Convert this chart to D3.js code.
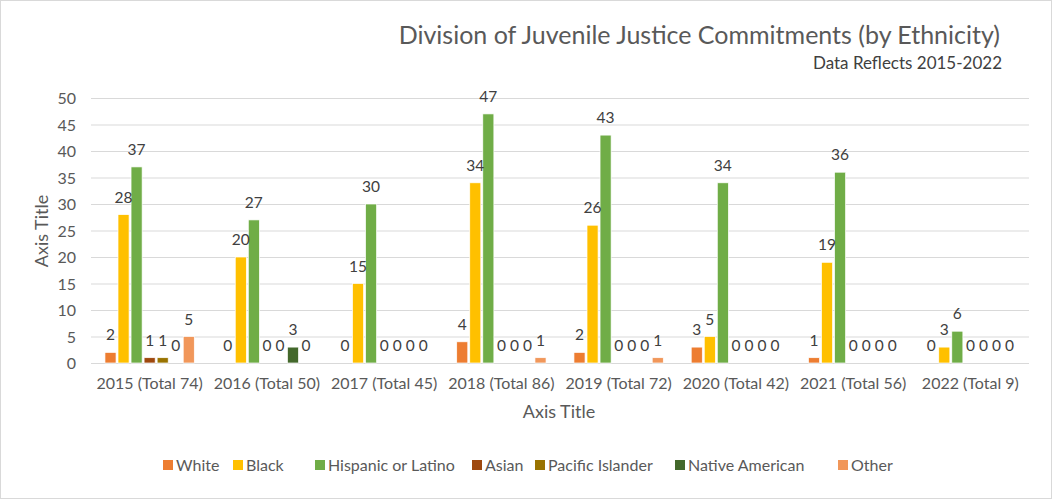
<!DOCTYPE html>
<html><head><meta charset="utf-8">
<script src="https://cdn.jsdelivr.net/npm/d3@7"></script>
<style>
html,body{margin:0;padding:0;background:#fff;}
text{font-family:Lato,"Open Sans",sans-serif;}
</style></head>
<body><svg id="c" width="1052" height="499"></svg>
<script>
const categories = ["2015 (Total 74)","2016 (Total 50)","2017 (Total 45)","2018 (Total 86)","2019 (Total 72)","2020 (Total 42)","2021 (Total 56)","2022 (Total 9)"];
const seriesNames = ["White","Black","Hispanic or Latino","Asian","Pacific Islander","Native American","Other"];
const white    = [2,0,0,4,2,3,1,0];
const black    = [28,20,15,34,26,5,19,3];
const hispanic = [37,27,30,47,43,34,36,6];
const asian    = [1,0,0,0,0,0,0,0];
const pacific  = [1,0,0,0,0,0,0,0];
const native   = [0,3,0,0,0,0,0,0];
const other    = [5,0,0,1,1,0,0,0];
const yTicks = [0,5,10,15,20,25,30,35,40,45,50];
const colors = ["#ED7D31","#FFC000","#70AD47","#9E480E","#997300","#43682B","#F1975A"];
const seriesValues = [white,black,hispanic,asian,pacific,native,other];

const svg = d3.select("#c");
svg.append("rect").attr("x",0.5).attr("y",0.5).attr("width",1051).attr("height",498)
  .attr("fill","#fff").attr("stroke","#d9d9d9");

const m = {l:91, r:1029, t:98, b:363};
const x0 = d3.scaleBand().domain(categories).range([m.l,m.r]).paddingInner(0).paddingOuter(0);
const x1 = d3.scaleBand().domain(seriesNames).range([12, x0.bandwidth()-12]).padding(0.15);
const y = d3.scaleLinear().domain([0,50]).range([m.b,m.t]);

// gridlines
svg.append("g").selectAll("line").data(yTicks).join("line")
  .attr("x1",m.l).attr("x2",m.r).attr("y1",d=>y(d)+0.5).attr("y2",d=>y(d)+0.5)
  .attr("stroke","#d9d9d9").attr("stroke-width",1);

// y axis labels
const yAxis = d3.axisLeft(y).tickValues(yTicks).tickSize(0).tickPadding(0);
const ga = svg.append("g").attr("transform",`translate(76,0)`).call(yAxis);
ga.select(".domain").remove();
ga.selectAll("text").attr("fill","#595959").style("font-size","16px").attr("dy","0.35em").style("font-family","Lato,'Open Sans',sans-serif");

// x axis labels
const xAxis = d3.axisBottom(x0).tickSize(0).tickPadding(0);
const gx = svg.append("g").attr("transform",`translate(0,${m.b+15})`).call(xAxis);
gx.select(".domain").remove();
gx.selectAll("text").attr("fill","#595959").style("font-size","16px").attr("dy","0.71em").style("font-family","Lato,'Open Sans',sans-serif");

// bars
const flat = [];
categories.forEach((c,i)=>seriesNames.forEach((s,j)=>flat.push({c,s,v:seriesValues[j][i],col:colors[j]})));
const g = svg.append("g");
g.selectAll("rect").data(flat).join("rect")
  .attr("x",d=>x0(d.c)+x1(d.s)).attr("width",x1.bandwidth())
  .attr("y",d=>y(d.v)).attr("height",d=>y(0)-y(d.v))
  .attr("fill",d=>d.col).attr("stroke","#fff").attr("stroke-width",0.7);
g.selectAll("text").data(flat).join("text")
  .attr("x",d=>x0(d.c)+x1(d.s)+x1.bandwidth()/2).attr("y",d=>y(d.v)-12)
  .attr("text-anchor","middle").attr("fill","#404040").style("font-size","15.5px")
  .text(d=>d.v);

// titles
svg.append("text").attr("x",1000).attr("y",44).attr("text-anchor","end")
  .attr("fill","#595959").style("font-size","25px").text("Division of Juvenile Justice Commitments (by Ethnicity)");
svg.append("text").attr("x",1002).attr("y",69).attr("text-anchor","end")
  .attr("fill","#404040").style("font-size","17px").text("Data Reflects 2015-2022");
svg.append("text").attr("transform","translate(48,231) rotate(-90)").attr("text-anchor","middle")
  .attr("fill","#595959").style("font-size","18px").text("Axis Title");
svg.append("text").attr("x",559).attr("y",418).attr("text-anchor","middle")
  .attr("fill","#595959").style("font-size","18px").text("Axis Title");

// legend
const legendX = [163,233,315,472,535,675,838];
const lg = svg.append("g");
seriesNames.forEach((s,j)=>{
  lg.append("rect").attr("x",legendX[j]).attr("y",460).attr("width",10).attr("height",10).attr("fill",colors[j]);
  lg.append("text").attr("x",legendX[j]+13).attr("y",471).attr("fill","#595959").style("font-size","16px").text(s);
});
</script></body></html>
